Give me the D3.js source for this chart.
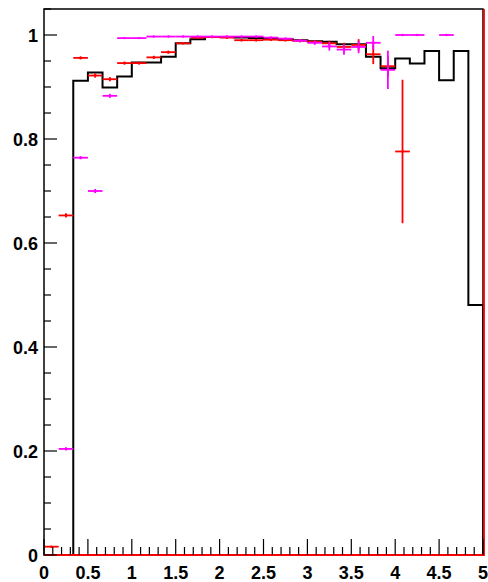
<!DOCTYPE html>
<html>
<head>
<meta charset="utf-8">
<script src="https://cdn.jsdelivr.net/npm/d3@7"></script>
<style>
  html, body { margin: 0; padding: 0; background: #fff; }
  svg { display: block; }
  .tick-label { font-family: "Liberation Sans", Arial, Helvetica, sans-serif; font-weight: bold; font-size: 18px; fill: #000; }
</style>
</head>
<body>
<svg id="chart" width="488" height="582"></svg>
<script>
// Histogram binning: 30 bins between 0 and 5
const nBins = 30;
const xMin = 0, xMax = 5;
const yMax = 1.05;

// Reference efficiency histogram (black step line)
const blackValues = [
  0, 0, 0.912, 0.928, 0.899, 0.920, 0.947, 0.947, 0.958, 0.984,
  0.992, 0.996, 0.996, 0.995, 0.994, 0.993, 0.992, 0.990, 0.988, 0.987,
  0.982, 0.982, 0.958, 0.936, 0.955, 0.945, 0.969, 0.913, 0.969, 0.481
];

// Red data points and their vertical errors (null = empty bin)
const redValues = [
  0.016, 0.653, 0.956, 0.922, 0.915, 0.946, 0.946, 0.957, 0.967, 0.984,
  0.995, 0.996, 0.995, 0.990, 0.990, 0.991, 0.990, 0.989, 0.987, 0.984,
  0.977, 0.981, 0.963, 0.940, 0.776, null, null, null, null, null
];
const redErrors = [
  0, 0.004, 0.003, 0.004, 0.004, 0.003, 0.003, 0.003, 0.003, 0.002,
  0.002, 0.002, 0.002, 0.002, 0.002, 0.002, 0.002, 0.003, 0.003, 0.005,
  0.008, 0.011, 0.019, 0.020, 0.138, 0, 0, 0, 0, 0
];

// Magenta data points and their vertical errors
const magentaValues = [
  null, 0.204, 0.764, 0.700, 0.883, 0.994, 0.994, 0.997, 0.997, 0.997,
  0.997, 0.997, 0.997, 0.997, 0.997, 0.995, 0.993, 0.989, 0.985, 0.978,
  0.972, 0.977, 0.985, 0.933, 1.000, 1.000, null, 1.000, null, null
];
const magentaErrors = [
  0, 0.003, 0.003, 0.004, 0.004, 0.001, 0.001, 0.001, 0.001, 0.001,
  0.001, 0.001, 0.001, 0.001, 0.001, 0.002, 0.002, 0.003, 0.004, 0.008,
  0.010, 0.012, 0.013, 0.037, 0, 0, 0, 0, 0, 0
];

// Axis tick labels
const xTickValues = [0, 0.5, 1, 1.5, 2, 2.5, 3, 3.5, 4, 4.5, 5];
const xTickLabels = ["0", "0.5", "1", "1.5", "2", "2.5", "3", "3.5", "4", "4.5", "5"];
const yTickValues = [0, 0.2, 0.4, 0.6, 0.8, 1];
const yTickLabels = ["0", "0.2", "0.4", "0.6", "0.8", "1"];

const svg = d3.select("#chart");
const frameLeft = 44, frameRight = 483, frameTop = 9, frameBottom = 555;

const x = d3.scaleLinear().domain([xMin, xMax]).range([frameLeft, frameRight]);
const y = d3.scaleLinear().domain([0, yMax]).range([frameBottom, frameTop]);
const binWidth = (xMax - xMin) / nBins;
const binLo = i => xMin + i * binWidth;
const binHi = i => xMin + (i + 1) * binWidth;

const plot = svg.append("g");

// Black step histogram
const stepPts = [];
blackValues.forEach((v, i) => {
  stepPts.push([binLo(i), v]);
  stepPts.push([binHi(i), v]);
});
stepPts.push([xMax, 0]);
plot.append("path")
  .attr("d", d3.line().x(d => x(d[0])).y(d => y(d[1]))(stepPts))
  .attr("fill", "none")
  .attr("stroke", "#000")
  .attr("stroke-width", 2);

// Data points with horizontal bin-width bars and vertical error bars
function drawPoints(values, errors, color) {
  const g = plot.append("g").attr("stroke", color).attr("stroke-width", 1.8);
  values.forEach((v, i) => {
    if (v === null) return;
    const cx = x((binLo(i) + binHi(i)) / 2);
    g.append("line")
      .attr("x1", x(binLo(i))).attr("x2", x(binHi(i)))
      .attr("y1", y(v)).attr("y2", y(v));
    if (errors[i] > 0) {
      g.append("line")
        .attr("x1", cx).attr("x2", cx)
        .attr("y1", y(Math.min(v + errors[i], yMax))).attr("y2", y(Math.max(v - errors[i], 0)));
    }
    g.append("circle")
      .attr("cx", cx).attr("cy", y(v)).attr("r", 1.2)
      .attr("fill", color).attr("stroke", "none");
  });
}
drawPoints(redValues, redErrors, "#ff0000");
drawPoints(magentaValues, magentaErrors, "#ff00ff");

// Frame
svg.append("rect")
  .attr("x", frameLeft).attr("y", frameTop)
  .attr("width", frameRight - frameLeft).attr("height", frameBottom - frameTop)
  .attr("fill", "none").attr("stroke", "#000").attr("stroke-width", 1.5);

// Empty red histogram along the baseline and its closing edge at the upper limit
svg.append("path")
  .attr("d", `M${x(xMin)},${y(0)}H${x(xMax) + 1}V${frameTop}`)
  .attr("fill", "none").attr("stroke", "#ff0000").attr("stroke-width", 1.8);

// X axis ticks (major every 0.5, minor every 0.1)
const xt = svg.append("g");
d3.range(0, 51).forEach(k => {
  const v = k / 10;
  const major = k % 5 === 0;
  xt.append("line")
    .attr("x1", x(v)).attr("x2", x(v))
    .attr("y1", frameBottom).attr("y2", frameBottom - (major ? 16 : 8))
    .attr("stroke", "#000").attr("stroke-width", 1.2);
});
xTickValues.forEach((v, i) => {
  svg.append("text").attr("class", "tick-label")
    .attr("x", x(v)).attr("y", 579)
    .attr("text-anchor", "middle")
    .text(xTickLabels[i]);
});

// Y axis ticks (major every 0.2, minor every 0.05)
const yt = svg.append("g");
d3.range(0, 22).forEach(k => {
  const v = k * 0.05;
  if (v > yMax + 1e-9) return;
  const major = k % 4 === 0;
  yt.append("line")
    .attr("x1", frameLeft).attr("x2", frameLeft + (major ? 13 : 7))
    .attr("y1", y(v)).attr("y2", y(v))
    .attr("stroke", "#000").attr("stroke-width", 1.2);
});
yTickValues.forEach((v, i) => {
  svg.append("text").attr("class", "tick-label")
    .attr("x", 38).attr("y", y(v) + 7)
    .attr("text-anchor", "end")
    .text(yTickLabels[i]);
});
</script>
</body>
</html>
